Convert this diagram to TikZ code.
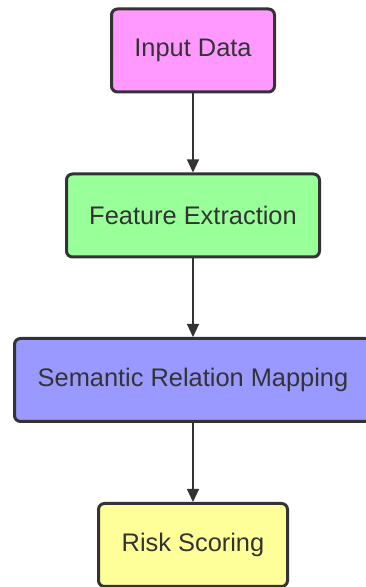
\documentclass[tikz,border=0pt]{standalone}
\usepackage{fontspec}
\setmainfont{Liberation Sans}
\usetikzlibrary{arrows.meta}
\definecolor{inkgray}{HTML}{333333}
\definecolor{boxpink}{HTML}{FF99FF}
\definecolor{boxgreen}{HTML}{99FF99}
\definecolor{boxblue}{HTML}{9999FF}
\definecolor{boxyellow}{HTML}{FFFF99}
\tikzset{
  stage/.style={draw=inkgray, line width=3pt, rounded corners=6pt,
    minimum height=83pt, inner sep=0pt, text=inkgray,
    font=\fontsize{25.4}{30}\selectfont},
  flow/.style={draw=inkgray, line width=1.2pt,
    -{Triangle[length=13pt,width=12pt]}}
}
\begin{document}
\begin{tikzpicture}[x=1pt,y=1pt]
  \useasboundingbox (0,0) rectangle (366,587);
  \node[stage, fill=boxpink,   minimum width=163pt] (input)    at (193,536.5) {Input Data};
  \node[stage, fill=boxgreen,  minimum width=253pt] (features) at (193,371.5) {Feature Extraction};
  \node[stage, fill=boxblue,   minimum width=357pt] (mapping)  at (193,207)   {Semantic Relation Mapping};
  \node[stage, fill=boxyellow, minimum width=189pt] (scoring)  at (193,42)    {Risk Scoring};
  \draw[flow] (input) -- (features);
  \draw[flow] (features) -- (mapping);
  \draw[flow] (mapping) -- (scoring);
\end{tikzpicture}
\end{document}
